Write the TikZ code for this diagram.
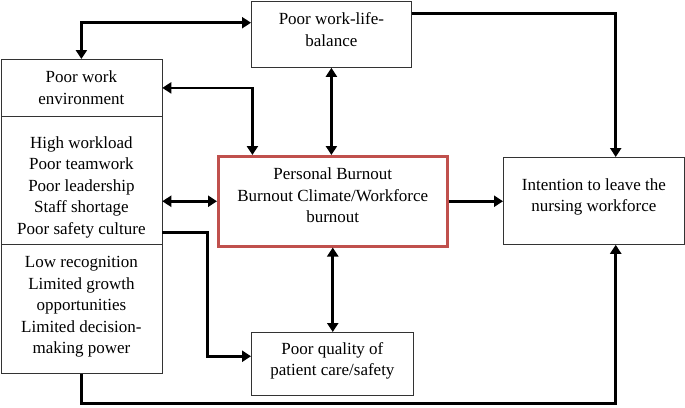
\documentclass[tikz,border=0pt]{standalone}
\usepackage{fontspec}
\setmainfont{Liberation Serif}
\usetikzlibrary{arrows.meta,calc}
\definecolor{burnred}{RGB}{192,80,77}
\begin{document}
\begin{tikzpicture}[x=1pt, y=-1pt, >={Triangle[length=9pt,width=11pt]},
    box/.style={draw=black!80, line width=0.8pt, inner sep=0pt, anchor=north west},
    txt/.style={align=center, inner sep=0pt, font=\fontsize{17}{21.5}\selectfont},
    link/.style={line width=2.8pt}]
    \useasboundingbox (0,0) rectangle (685,407);
    % left column
    \node[box, minimum width=161pt, minimum height=57pt] (env) at (0.5,59) {};
    \node[box, minimum width=161pt, minimum height=128pt] (mid) at (0.5,116) {};
    \node[box, minimum width=161pt, minimum height=129pt] (low) at (0.5,244) {};
    % other boxes
    \node[box, minimum width=160pt, minimum height=66.5pt] (wlb) at (251,0.5) {};
    \node[box, draw=burnred, line width=2.5pt, minimum width=229pt, minimum height=90pt] (burn) at (217,155) {};
    \node[box, minimum width=181pt, minimum height=87pt] (intent) at (503,157) {};
    \node[box, minimum width=162pt, minimum height=63pt] (qual) at (251,332) {};
    % texts
    \node[txt] (env-t) at (env.center) {Poor work\\environment};
    \node[txt] (mid-t) at ([yshift=-7pt]mid.center)
        {High workload\\Poor teamwork\\Poor leadership\\Staff shortage\\Poor safety culture};
    \node[txt] (low-t) at ([yshift=2pt]low.center)
        {Low recognition\\Limited growth\\opportunities\\Limited decision-\\making power};
    \node[txt] (wlb-t) at ([yshift=4.5pt]wlb.center) {Poor work-life-\\balance};
    \node[txt] (burn-t) at ([yshift=6pt]burn.center) {Personal Burnout\\Burnout Climate/Workforce\\burnout};
    \node[txt] (intent-t) at ([yshift=4pt]intent.center) {Intention to leave the\\nursing workforce};
    \node[txt] (qual-t) at ([yshift=3pt]qual.center) {Poor quality of\\patient care/safety};
    % connectors
    \draw[link, <->] (env.north) |- ($(wlb.north west)!.33!(wlb.south west)$);
    \draw[link, <->] (env.east) -| ($(burn.north west)!.153!(burn.north east)$);
    \draw[link, <->] (wlb.south) -- (wlb.south |- burn.north);
    \draw[link, <->] (burn.west -| mid.east) -- (burn.west);
    \draw[link, ->] ($(wlb.north east)!.19!(wlb.south east)$) -| ($(intent.north west)!.62!(intent.north east)$);
    \draw[link, ->] (burn.east) -- (burn.east -| intent.west);
    \draw[link, <->] (burn.south) -- (burn.south |- qual.north);
    \draw[link, ->] ($(mid.north east)!.906!(mid.south east)$) -- ++(45,0)
        |- ($(qual.north west)!.38!(qual.south west)$);
    \draw[link, ->] (low.south) -- ++(0,30) -| ($(intent.south west)!.62!(intent.south east)$);
\end{tikzpicture}
\end{document}
